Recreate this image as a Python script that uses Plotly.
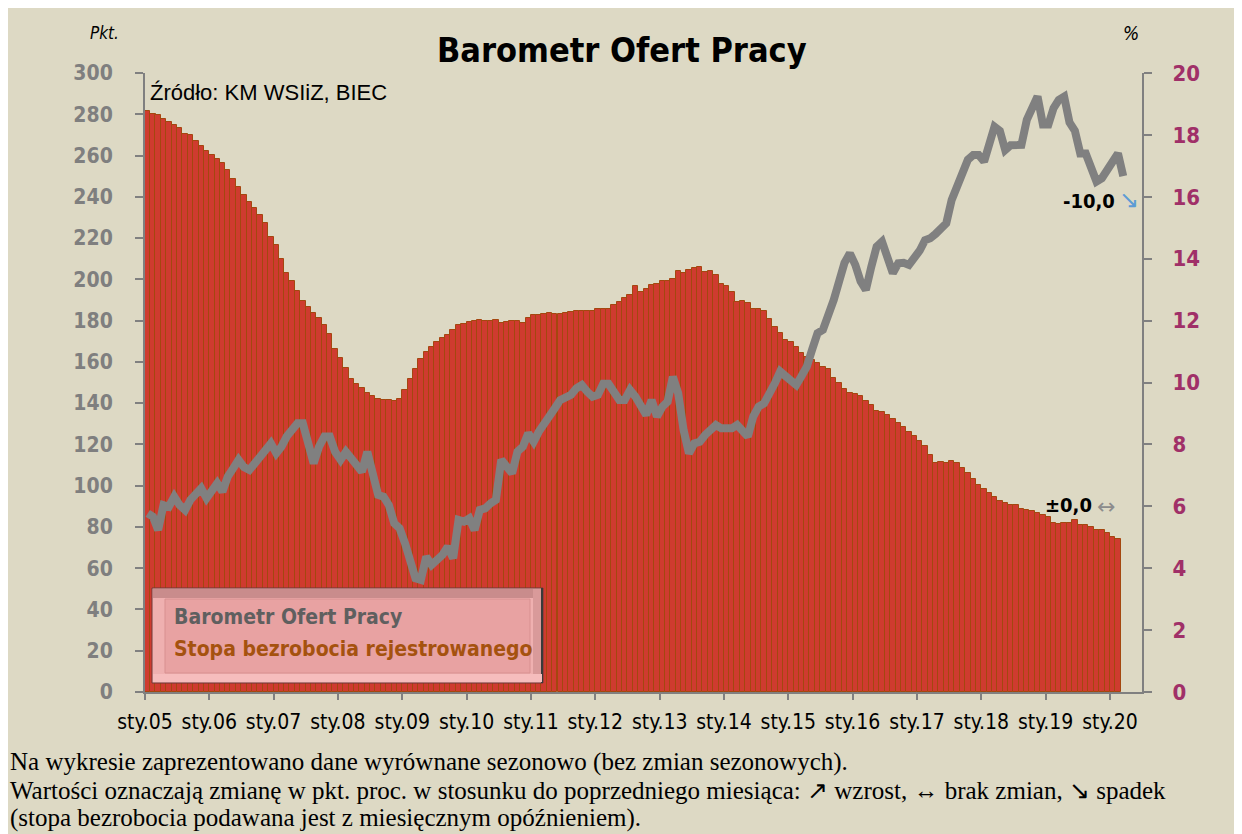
import pandas as pd
import plotly.graph_objects as go

# ---------------- data ----------------
unemployment_rate = [
    18.78, 18.67, 18.63, 18.52, 18.42, 18.33, 18.22, 18.03, 18.01, 17.79, 17.64, 17.49,
    17.34, 17.21, 17.08, 16.88, 16.58, 16.33, 16.05, 15.83, 15.64, 15.40, 15.14, 14.69,
    14.43, 14.00, 13.55, 13.27, 12.97, 12.62, 12.45, 12.23, 12.08, 11.85, 11.57, 11.09,
    10.79, 10.47, 10.10, 9.95, 9.82, 9.67, 9.56, 9.48, 9.43, 9.42, 9.41, 9.46,
    9.75, 10.10, 10.45, 10.75, 11.00, 11.15, 11.30, 11.45, 11.55, 11.70, 11.85, 11.90,
    11.95, 12.00, 12.02, 11.98, 11.98, 12.02, 11.93, 11.95, 11.98, 12.00, 11.91, 12.08,
    12.17, 12.19, 12.21, 12.23, 12.21, 12.21, 12.23, 12.28, 12.30, 12.32, 12.30, 12.30,
    12.36, 12.36, 12.39, 12.52, 12.60, 12.73, 12.84, 13.12, 12.92, 13.03, 13.14, 13.18,
    13.29, 13.29, 13.33, 13.59, 13.53, 13.65, 13.70, 13.74, 13.57, 13.59, 13.46, 13.18,
    13.12, 12.92, 12.60, 12.62, 12.56, 12.39, 12.36, 12.30, 12.04, 11.80, 11.61, 11.37,
    11.30, 11.16, 10.96, 10.81, 10.73, 10.62, 10.49, 10.45, 10.15, 9.99, 9.78, 9.67,
    9.63, 9.58, 9.41, 9.26, 9.09, 9.05, 8.94, 8.83, 8.70, 8.55, 8.40, 8.27,
    8.12, 7.95, 7.67, 7.39, 7.43, 7.41, 7.45, 7.39, 7.25, 7.06, 6.88, 6.70,
    6.55, 6.42, 6.30, 6.18, 6.12, 6.05, 6.03, 5.90, 5.88, 5.86, 5.77, 5.73,
    5.66, 5.47, 5.43, 5.47, 5.47, 5.56, 5.41, 5.39, 5.32, 5.23, 5.23, 5.13,
    5.00, 4.93,
]

barometer = [
    86.6, 85.0, 78.5, 90.6, 89.8, 94.7, 90.6, 88.2, 93.1, 95.5, 98.7, 93.9,
    97.9, 101.2, 97.1, 104.4, 108.4, 112.5, 109.0, 107.6, 110.8, 114.1, 118.1, 120.5,
    115.7, 118.9, 123.8, 127.8, 130.2, 130.2, 119.7, 110.8, 118.9, 123.8, 123.8, 116.4,
    112.5, 116.4, 113.3, 110.0, 106.8, 116.4, 106.8, 95.5, 94.7, 90.6, 81.7, 79.3,
    72.0, 62.3, 55.1, 54.3, 65.6, 61.6, 64.0, 66.4, 70.4, 64.8, 83.4, 82.6,
    84.2, 78.5, 88.2, 89.0, 91.4, 93.1, 112.5, 109.0, 106.0, 116.5, 118.9, 125.4,
    121.3, 126.2, 129.4, 133.5, 137.5, 141.5, 143.1, 144.0, 147.2, 148.8, 145.6, 143.1,
    144.0, 149.4, 149.4, 144.8, 141.5, 141.5, 146.4, 143.1, 138.3, 134.3, 141.5, 133.5,
    138.3, 140.7, 152.8, 144.8, 127.0, 115.7, 120.5, 121.3, 124.6, 127.0, 129.4, 127.8,
    127.8, 127.8, 129.4, 127.0, 123.8, 133.5, 138.3, 139.9, 144.0, 149.6, 155.3, 152.8,
    150.0, 148.8, 153.0, 157.7, 166.0, 173.9, 175.5, 182.0, 190.0, 199.0, 208.0, 212.6,
    207.0, 199.0, 194.9, 206.0, 215.9, 218.3, 210.0, 203.0, 207.8, 208.0, 207.0, 210.0,
    214.0, 219.0, 219.9, 222.0, 225.0, 227.2, 238.5, 246.0, 251.4, 258.0, 260.3, 260.3,
    257.1, 266.8, 274.0, 272.0, 262.7, 265.0, 265.2, 265.2, 277.3, 283.0, 288.6, 275.0,
    275.0, 283.0, 287.0, 288.6, 276.0, 272.0, 261.0, 261.0, 255.0, 247.4, 249.0, 253.0,
    258.0, 261.0, 250.0,
]

start_month = "2005-01-01"
tick_years = list(range(2005, 2021))
tick_labels = ["sty.%02d" % (y % 100) for y in tick_years]
barometer_change = "-10,0"
unemployment_change = "\u00b10,0"

bar_dates = pd.date_range(start_month, periods=len(unemployment_rate), freq="MS")
line_dates = pd.date_range(start_month, periods=len(barometer), freq="MS")
tick_vals = [pd.Timestamp(year=y, month=1, day=1) for y in tick_years]

# ---------------- figure geometry ----------------
W, H = 1242, 834
L, R, T, B = 137, 108, 65, 150
PW, PH = W - L - R, H - T - B
OFF = 8  # page body margin; helpers below take screen pixel positions


def px(x):
    return (x - OFF - L) / PW


def py(y):
    return (H - B - (y - OFF)) / PH


NARROW = "DejaVu Sans Condensed, Liberation Sans Narrow, Arial Narrow, sans-serif"
BG = "#DDD9C4"

fig = go.Figure()

fig.add_trace(go.Bar(
    x=bar_dates, y=unemployment_rate, yaxis="y",
    xperiod="M1", xperiodalignment="middle",
    width=30.4 * 24 * 3600 * 1000,
    marker=dict(color="#CF3B2F", line=dict(color="#A4470F", width=1)),
    name="Stopa bezrobocia rejestrowanego", showlegend=False,
))

fig.add_trace(go.Scatter(
    x=line_dates, y=barometer, yaxis="y2", mode="lines",
    xperiod="M1", xperiodalignment="middle",
    line=dict(color="#808080", width=8),
    name="Barometr Ofert Pracy", showlegend=False,
))

axis_line = dict(showline=True, linecolor="#808080", linewidth=2,
                 ticks="outside", tickcolor="#808080", tickwidth=2,
                 showgrid=False, zeroline=False)

fig.update_layout(
    width=W, height=H,
    margin=dict(l=L, r=R, t=T, b=B),
    paper_bgcolor=BG, plot_bgcolor=BG,
    bargap=0,
    xaxis=dict(type="date", range=["2005-01-01", "2020-07-01"],
               tickvals=tick_vals, ticktext=tick_labels, ticklen=6,
               tickangle=0, ticklabelstandoff=4,
               tickfont=dict(family=NARROW, size=21, color="#000000"),
               **axis_line),
    yaxis=dict(side="right", range=[0, 20], dtick=2, ticklen=8,
               ticklabelstandoff=16,
               tickfont=dict(family=NARROW, size=22, color="#A03068", weight="bold"),
               **axis_line),
    yaxis2=dict(side="left", overlaying="y", range=[0, 300], dtick=20, ticklen=8,
                ticklabelstandoff=18,
                tickfont=dict(family=NARROW, size=21, color="#7F7F7F", weight="bold"),
                **axis_line),
)

shapes = [
    # legend box (bevelled)
    dict(type="rect", xref="paper", yref="paper", x0=px(152), x1=px(543), y0=py(683), y1=py(588),
         fillcolor="#EFB0B0", line=dict(color="#6E3B3B", width=1), layer="above"),
    dict(type="rect", xref="paper", yref="paper", x0=px(153), x1=px(542), y0=py(598), y1=py(589),
         fillcolor="#C98C8C", line=dict(width=0), layer="above"),
    dict(type="rect", xref="paper", yref="paper", x0=px(533), x1=px(542), y0=py(682), y1=py(589),
         fillcolor="#D99A9A", line=dict(width=0), layer="above"),
    dict(type="rect", xref="paper", yref="paper", x0=px(541), x1=px(543), y0=py(683), y1=py(588),
         fillcolor="#3A3A3A", line=dict(width=0), layer="above"),
    dict(type="rect", xref="paper", yref="paper", x0=px(153), x1=px(542), y0=py(682), y1=py(674),
         fillcolor="#F6BDBD", line=dict(width=0), layer="above"),
    dict(type="rect", xref="paper", yref="paper", x0=px(165), x1=px(530), y0=py(673), y1=py(599),
         fillcolor="#E8A2A2", line=dict(color="#D89090", width=1), layer="above"),
]
fig.update_layout(shapes=shapes)

ann = []


def add_text(text, x, y, size, color="#000000", xanchor="left", yanchor="middle",
             family=NARROW, bold=False, italic=False):
    ann.append(dict(
        text=text, x=px(x), y=py(y), xref="paper", yref="paper",
        xanchor=xanchor, yanchor=yanchor, showarrow=False,
        font=dict(family=family, size=size, color=color,
                  weight="bold" if bold else "normal",
                  style="italic" if italic else "normal"),
    ))


add_text("Barometr Ofert Pracy", 622, 50, 34, xanchor="center", bold=True)
add_text("Pkt.", 121, 33, 17, xanchor="right", italic=True)
add_text("%", 1141, 33, 19, xanchor="right", italic=True)
add_text("Źródło: KM WSIiZ, BIEC", 148, 93, 22,
         family="Liberation Sans, Arial, sans-serif")
add_text("Barometr Ofert Pracy", 172, 617, 21, color="#5F5F5F", bold=True)
add_text("Stopa bezrobocia rejestrowanego", 172, 649, 21, color="#A5520F", bold=True)
add_text(barometer_change, 1117, 201, 20, xanchor="right", bold=True)
add_text("\u2198", 1117, 200, 24, color="#5B9BD5", family="DejaVu Sans, sans-serif")
add_text(unemployment_change, 1094, 505, 20, xanchor="right", bold=True)
add_text("\u2194", 1095, 506, 22, color="#8C8C8C", family="DejaVu Sans, sans-serif")

SERIF = "Liberation Serif, Times New Roman, serif"
add_text("Na wykresie zaprezentowano dane wyrównane sezonowo (bez zmian sezonowych).",
         8, 762, 25, family=SERIF)
add_text("Wartości oznaczają zmianę w pkt. proc. w stosunku do poprzedniego miesiąca: "
         "\u2197 wzrost, \u2194 brak zmian, \u2198 spadek", 8, 790, 25, family=SERIF)
add_text("(stopa bezrobocia podawana jest z miesięcznym opóźnieniem).",
         8, 818, 25, family=SERIF)

fig.update_layout(annotations=ann)

fig.write_html("out.html")
